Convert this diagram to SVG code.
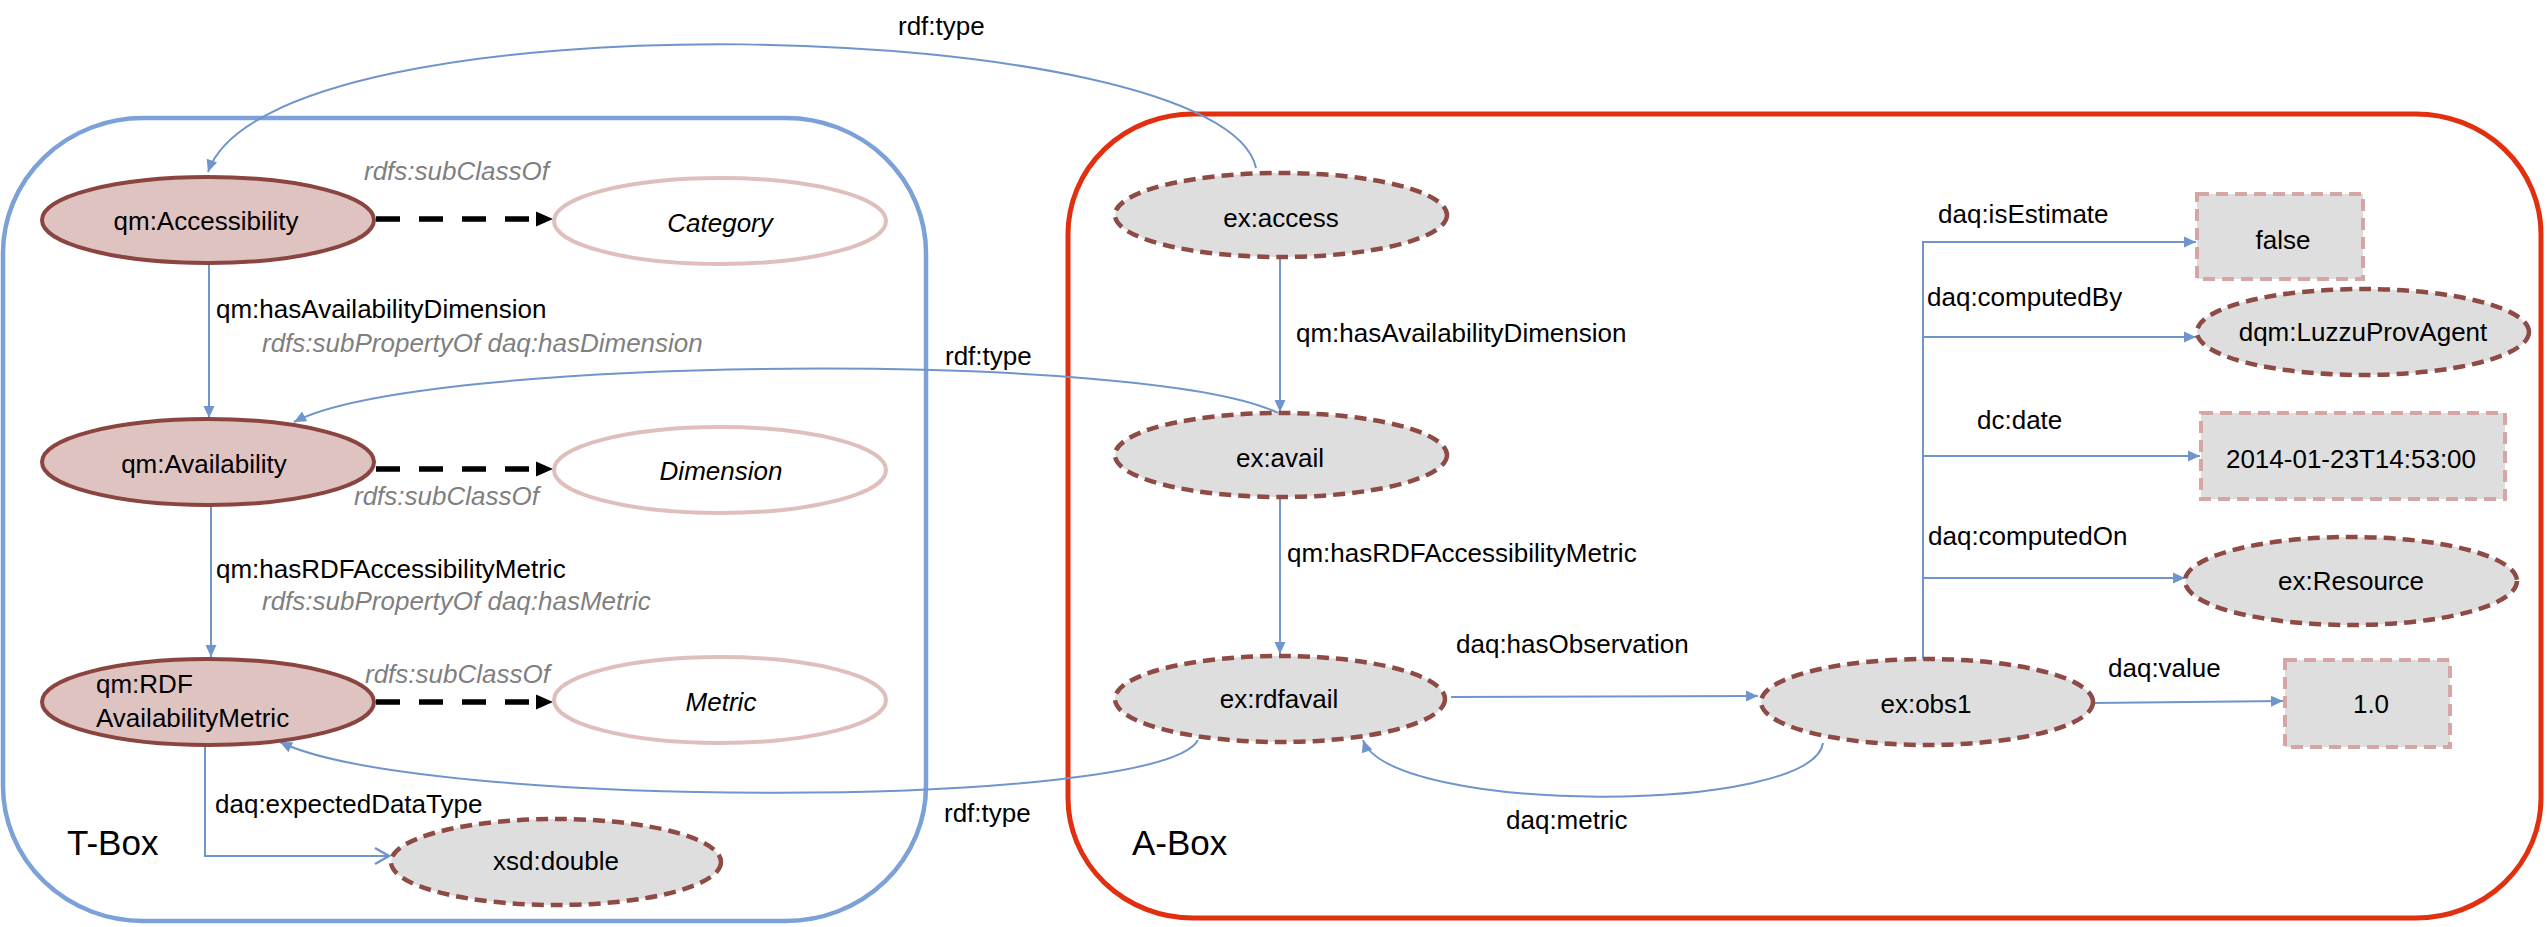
<svg xmlns="http://www.w3.org/2000/svg" width="2547" height="927" viewBox="0 0 2547 927">
<style>
text{font-family:"Liberation Sans",Arial,sans-serif;font-size:26px;fill:#000}
.c{text-anchor:middle}
.g{fill:#7f7f7f;font-style:italic}
.i{font-style:italic}
.big{font-size:35px}
.qm{fill:#DFC3C1;stroke:#8B4540;stroke-width:4}
.cls{fill:#fff;stroke:#DEBFBC;stroke-width:4}
.ind{fill:#DEDEDE;stroke:#8E4A45;stroke-width:4.5;stroke-dasharray:12 7}
.lit{fill:#DEDEDE;stroke:#D5A6A3;stroke-width:4;stroke-dasharray:12 7}
.e{fill:none;stroke:#6F95CC;stroke-width:2;marker-end:url(#a)}
.sub{fill:none;stroke:#000;stroke-width:5.5;stroke-dasharray:24 19;marker-end:url(#b)}
</style>
<defs>
<marker id="a" markerUnits="userSpaceOnUse" markerWidth="14" markerHeight="13" refX="12" refY="5.5" orient="auto" overflow="visible"><path d="M0,0 L12,5.5 L0,11 z" fill="#6F95CC"/></marker>
<marker id="b" markerUnits="userSpaceOnUse" markerWidth="18" markerHeight="16" refX="0" refY="7.5" orient="auto" overflow="visible"><path d="M0,0 L17,7.5 L0,15 z" fill="#000"/></marker>
<marker id="o" markerUnits="userSpaceOnUse" markerWidth="16" markerHeight="18" refX="14" refY="8" orient="auto" overflow="visible"><path d="M0,0 L14,8 L0,16" fill="none" stroke="#6F95CC" stroke-width="2.5"/></marker>
</defs>
<rect width="2547" height="927" fill="#fff"/>
<g id="tbox"><rect x="3" y="118" width="923" height="803" rx="140" ry="135" fill="none" stroke="#7CA0D8" stroke-width="4.5"/><text class="big" x="67" y="855">T-Box</text></g>
<g id="abox"><rect x="1068" y="114" width="1473" height="804" rx="125" ry="120" fill="none" stroke="#E1300F" stroke-width="5"/><text class="big" x="1132" y="855">A-Box</text></g>
<g id="connectors">
<path class="e" d="M1256 168 C1225 15 270 -10 208 172"/>
<path class="e" d="M1278 413 C1150 350 420 355 294 422"/>
<path class="e" d="M1198 740 C1160 810 420 810 280 742"/>
<path class="e" d="M1823 743 C1812 815 1390 815 1363 740"/>
<path class="sub" d="M376 219 H536"/>
<path class="sub" d="M376 469 H536"/>
<path class="sub" d="M376 702 H536"/>
<path class="e" d="M209 263 V418"/>
<path class="e" d="M211 505 V657"/>
<path d="M205 746 V856 H389" fill="none" stroke="#6F95CC" stroke-width="2" marker-end="url(#o)"/>
<path class="e" d="M1280 258 V412"/>
<path class="e" d="M1280 498 V654"/>
<path class="e" d="M1451 697 L1758 696"/>
<path class="e" d="M2093 703 L2283 701"/>
<path class="e" d="M1923 660 V242 H2196"/>
<path class="e" d="M1923 337 H2196"/>
<path class="e" d="M1923 456 H2200"/>
<path class="e" d="M1923 578 H2185"/>
<text x="898" y="35">rdf:type</text>
<text x="945" y="365">rdf:type</text>
<text x="944" y="822">rdf:type</text>
<text class="g" x="364" y="180">rdfs:subClassOf</text>
<text class="g" x="354" y="505">rdfs:subClassOf</text>
<text class="g" x="365" y="683">rdfs:subClassOf</text>
<text x="216" y="318">qm:hasAvailabilityDimension</text>
<text class="g" x="262" y="352">rdfs:subPropertyOf daq:hasDimension</text>
<text x="216" y="578">qm:hasRDFAccessibilityMetric</text>
<text class="g" x="262" y="610">rdfs:subPropertyOf daq:hasMetric</text>
<text x="215" y="813">daq:expectedDataType</text>
<text x="1296" y="342">qm:hasAvailabilityDimension</text>
<text x="1287" y="562">qm:hasRDFAccessibilityMetric</text>
<text x="1456" y="653">daq:hasObservation</text>
<text x="1506" y="829">daq:metric</text>
<text x="1938" y="223">daq:isEstimate</text>
<text x="1927" y="306">daq:computedBy</text>
<text x="1977" y="429">dc:date</text>
<text x="1928" y="545">daq:computedOn</text>
<text x="2108" y="677">daq:value</text>
</g>
<g id="n-accessibility"><ellipse class="qm" cx="208" cy="220" rx="166" ry="43"/><text class="c" x="206" y="230">qm:Accessibility</text></g>
<g id="n-category"><ellipse class="cls" cx="720" cy="221" rx="166" ry="43"/><text class="c i" x="720" y="232">Category</text></g>
<g id="n-availability"><ellipse class="qm" cx="208" cy="462" rx="166" ry="43"/><text class="c" x="204" y="473">qm:Availability</text></g>
<g id="n-dimension"><ellipse class="cls" cx="720" cy="470" rx="166" ry="43"/><text class="c i" x="721" y="480">Dimension</text></g>
<g id="n-rdfmetric"><ellipse class="qm" cx="208" cy="702" rx="166" ry="43"/><text x="96" y="693">qm:RDF</text><text x="96" y="727">AvailabilityMetric</text></g>
<g id="n-metric"><ellipse class="cls" cx="720" cy="700" rx="166" ry="43"/><text class="c i" x="721" y="711">Metric</text></g>
<g id="n-xsddouble"><ellipse class="ind" cx="556" cy="862" rx="165" ry="43"/><text class="c" x="556" y="870">xsd:double</text></g>
<g id="n-access"><ellipse class="ind" cx="1281" cy="215" rx="166" ry="42"/><text class="c" x="1281" y="227">ex:access</text></g>
<g id="n-avail"><ellipse class="ind" cx="1281" cy="455" rx="166" ry="42"/><text class="c" x="1280" y="467">ex:avail</text></g>
<g id="n-rdfavail"><ellipse class="ind" cx="1280" cy="699" rx="165" ry="43"/><text class="c" x="1279" y="708">ex:rdfavail</text></g>
<g id="n-obs1"><ellipse class="ind" cx="1927" cy="702" rx="166" ry="43"/><text class="c" x="1926" y="713">ex:obs1</text></g>
<g id="n-false"><rect class="lit" x="2197" y="194" width="166" height="85"/><text class="c" x="2283" y="249">false</text></g>
<g id="n-luzzu"><ellipse class="ind" cx="2363" cy="332" rx="166" ry="43"/><text class="c" x="2363" y="341">dqm:LuzzuProvAgent</text></g>
<g id="n-date"><rect class="lit" x="2201" y="413" width="304" height="86"/><text class="c" x="2351" y="468">2014-01-23T14:53:00</text></g>
<g id="n-resource"><ellipse class="ind" cx="2351" cy="581" rx="166" ry="44"/><text class="c" x="2351" y="590">ex:Resource</text></g>
<g id="n-value"><rect class="lit" x="2285" y="660" width="165" height="87"/><text class="c" x="2371" y="713">1.0</text></g>
</svg>
